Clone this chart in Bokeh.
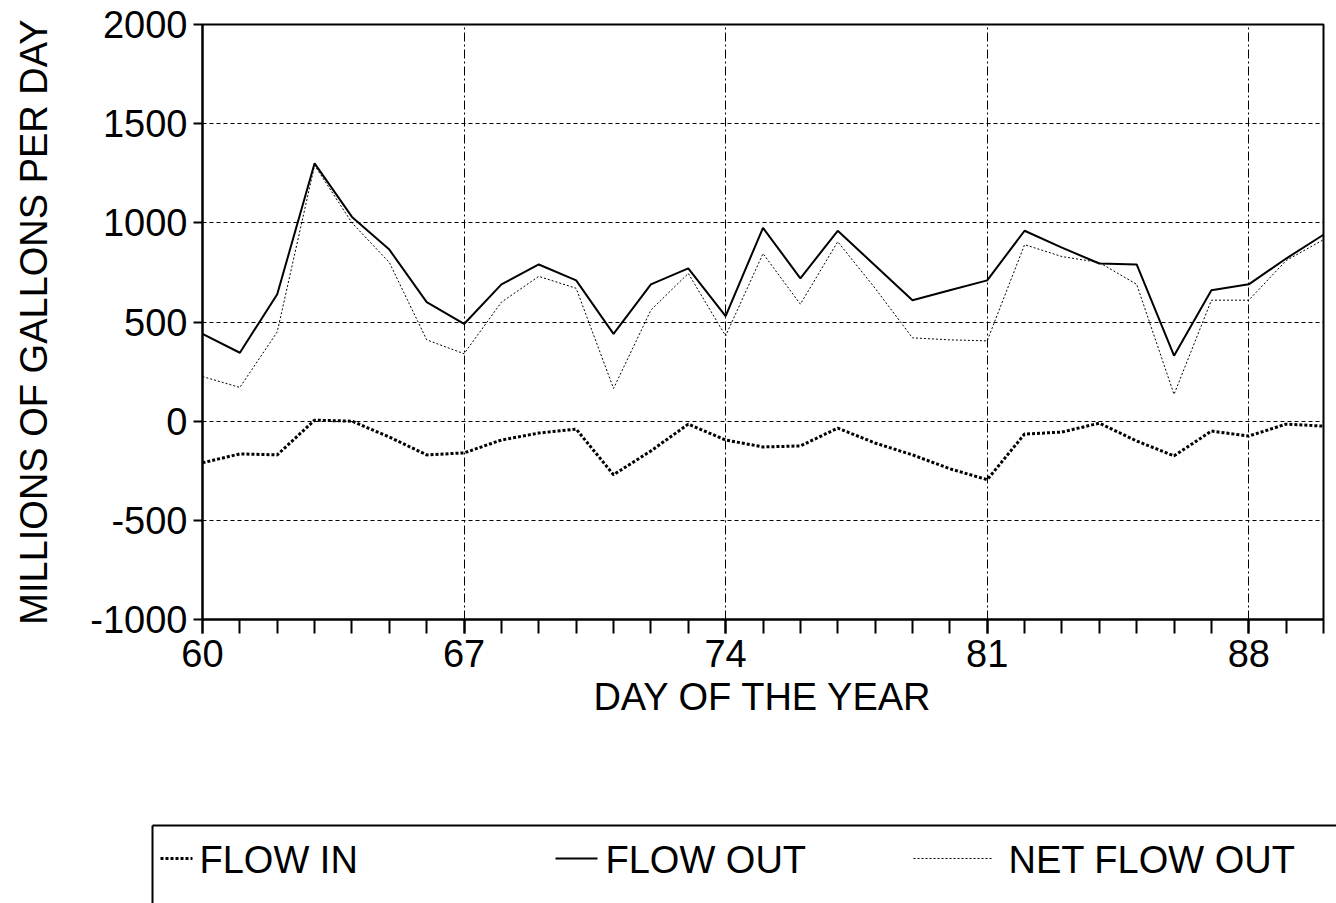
from bokeh.plotting import figure
from bokeh.layouts import column
from bokeh.models import Range1d, FixedTicker, ColumnDataSource, PrintfTickFormatter
from bokeh.core.properties import value
from bokeh.embed import file_html
from bokeh.resources import INLINE

# Daily river flow, days 60-90 (millions of gallons per day)
days = list(range(60, 91))
flow_out = [440, 345, 640, 1300, 1030, 865, 600, 490, 690, 790, 710, 440, 690, 770, 530,
            975, 720, 960, 785, 610, 660, 710, 960, 875, 795, 790, 330, 660, 690, 820, 940]
net_flow_out = [225, 170, 450, 1290, 1000, 800, 410, 340, 600, 730, 670, 165, 560, 745, 430,
                845, 590, 905, 670, 420, 410, 405, 890, 830, 800, 690, 135, 610, 610, 810, 915]
flow_in = [-210, -165, -170, 5, 0, -80, -170, -160, -95, -60, -40, -270, -150, -15, -95,
           -130, -125, -35, -110, -170, -240, -295, -65, -55, -10, -100, -175, -50, -75, -15, -25]

major_days = [60, 67, 74, 81, 88]
y_ticks = [-1000, -500, 0, 500, 1000, 1500, 2000]
legend_labels = ["FLOW IN", "FLOW OUT", "NET FLOW OUT"]

FONT = "Liberation Sans"
W = 1336
MAIN_H = 721
LEG_H = 903 - MAIN_H

src = ColumnDataSource(dict(day=days, out=flow_out, net=net_flow_out, inflow=flow_in))

p = figure(width=W, height=MAIN_H, output_backend="svg", toolbar_location=None,
           x_range=Range1d(60, 90), y_range=Range1d(-1000, 2000),
           min_border_left=202, min_border_right=13, min_border_top=24, min_border_bottom=102)
p.background_fill_color = "white"
p.border_fill_color = "white"
p.outline_line_color = "black"
p.outline_line_width = 2

# axes
xa = p.xaxis[0]
xa.ticker = FixedTicker(ticks=major_days, minor_ticks=days)
xa.axis_label = "DAY OF THE YEAR"
ya = p.yaxis[0]
ya.ticker = FixedTicker(ticks=y_ticks, minor_ticks=[])
ya.formatter = PrintfTickFormatter(format="%d")
ya.axis_label = "MILLIONS OF GALLONS PER DAY"
for ax in (xa, ya):
    ax.axis_line_color = "black"
    ax.axis_line_width = 2
    ax.major_tick_line_color = "black"
    ax.major_tick_line_width = 2
    ax.minor_tick_line_color = "black"
    ax.minor_tick_line_width = 2
    ax.major_tick_in = 0
    ax.minor_tick_in = 0
    ax.major_label_text_font = FONT
    ax.major_label_text_font_size = "38px"
    ax.major_label_text_color = "black"
    ax.axis_label_text_font = FONT
    ax.axis_label_text_font_size = "38px"
    ax.axis_label_text_font_style = "normal"
    ax.axis_label_text_color = "black"
xa.major_tick_out = 14
xa.minor_tick_out = 14
xa.major_label_standoff = 6
xa.axis_label_standoff = 6
ya.major_tick_out = 9
ya.major_label_standoff = 6
ya.axis_label_standoff = 32

# grid
p.xgrid.ticker = FixedTicker(ticks=major_days[1:])
p.xgrid.grid_line_color = "black"
p.xgrid.grid_line_width = 1
p.xgrid.grid_line_dash = "9 3 2 3"
p.ygrid.ticker = FixedTicker(ticks=y_ticks[1:-1])
p.ygrid.grid_line_color = "black"
p.ygrid.grid_line_width = 1
p.ygrid.grid_line_dash = "4 3"

# series
p.line("day", "inflow", source=src, line_color="black", line_width=3, line_dash="3 2")
p.line("day", "out", source=src, line_color="black", line_width=2)
p.line("day", "net", source=src, line_color="black", line_width=1, line_dash="2 2")

# legend panel underneath the plot, in pixel coordinates
lg = figure(width=W, height=LEG_H, output_backend="svg", toolbar_location=None,
            x_range=Range1d(0, W), y_range=Range1d(LEG_H, 0),
            min_border=0, min_border_left=0, min_border_right=0,
            min_border_top=0, min_border_bottom=0)
if "frame_align" in lg.properties():
    lg.frame_align = False
lg.axis.visible = False
lg.grid.visible = False
lg.outline_line_color = None
lg.background_fill_color = "white"
lg.border_fill_color = "white"

box_top = 104
row_y = 137
lg.segment(x0=[152, 152], y0=[box_top, box_top], x1=[W, 152], y1=[box_top, LEG_H],
           line_color="black", line_width=2)

sample_x0 = [160, 555, 913]
sample_x1 = [192, 597, 992]
text_x = [199, 605, 1008]
styles = [dict(line_width=3, line_dash="3 2"), dict(line_width=2, line_dash="solid"),
          dict(line_width=1, line_dash="2 2")]
for x0, x1, st in zip(sample_x0, sample_x1, styles):
    lg.line([x0, x1], [row_y, row_y], line_color="black", **st)
lg.text(x=text_x, y=[row_y + 1] * 3, text=legend_labels, text_font=value(FONT),
        text_font_size="38px", text_baseline="middle", text_align="left", text_color="black")

layout = column(p, lg, spacing=0)
open("out.html", "w").write(file_html(layout, INLINE))
